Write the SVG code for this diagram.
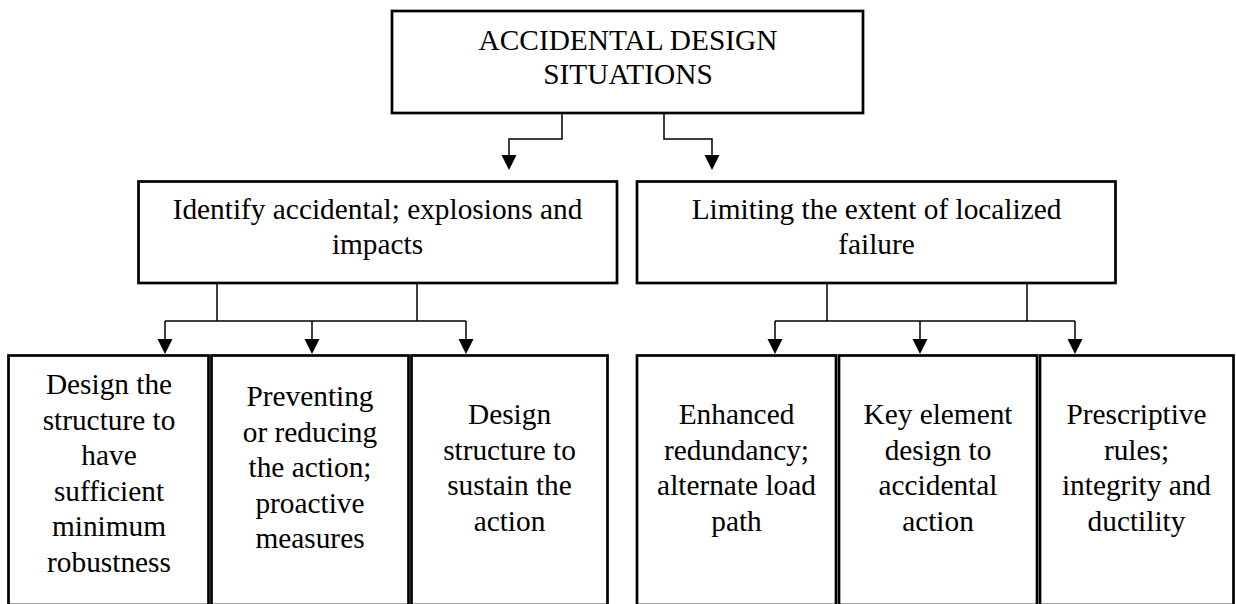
<svg xmlns="http://www.w3.org/2000/svg" width="1236" height="604" viewBox="0 0 1236 604">
<defs>
<style>
.box{fill:#fff;stroke:#000;stroke-width:2.7}
.t{font-family:'Liberation Serif',Tinos,'Times New Roman',Times,'DejaVu Serif',serif;font-size:29.33px;fill:#000;text-anchor:middle}
.c{fill:none;stroke:#000;stroke-width:1.5}
</style>
</defs>
<rect width="1236" height="604" fill="#fff"/>
<g id="connectors">
<path class="c" d="M562,113 V139 H509 V156"/>
<path d="M501.5,155 H516.5 L509,170 Z"/>
<path class="c" d="M664,113 V139 H712 V156"/>
<path d="M704.5,155 H719.5 L712,170 Z"/>
<path class="c" d="M217,283 V321 M417,283 V321 M165,321 H466 M165,321 V340 M312,321 V340 M466,321 V340"/>
<path d="M157.5,339 H172.5 L165,354 Z M304.5,339 H319.5 L312,354 Z M458.5,339 H473.5 L466,354 Z"/>
<path class="c" d="M827,283 V321 M1027,283 V321 M775,321 H1075 M775,321 V340 M920,321 V340 M1075,321 V340"/>
<path d="M767.5,339 H782.5 L775,354 Z M912.5,339 H927.5 L920,354 Z M1067.5,339 H1082.5 L1075,354 Z"/>
</g>
<g id="n-top">
<rect class="box" x="392" y="11" width="471" height="102"/>
<text class="t" font-family="Liberation Serif, serif" x="628" y="50">ACCIDENTAL DESIGN</text>
<text class="t" font-family="Liberation Serif, serif" x="628" y="83.5">SITUATIONS</text>
</g>
<g id="n-identify">
<rect class="box" x="138.5" y="181.5" width="478.5" height="101.5"/>
<text class="t" font-family="Liberation Serif, serif" x="377.5" y="219">Identify accidental; explosions and</text>
<text class="t" font-family="Liberation Serif, serif" x="377.5" y="254">impacts</text>
</g>
<g id="n-limiting">
<rect class="box" x="637" y="181.5" width="478.5" height="101.5"/>
<text class="t" font-family="Liberation Serif, serif" x="876.5" y="219">Limiting the extent of localized</text>
<text class="t" font-family="Liberation Serif, serif" x="876.5" y="254">failure</text>
</g>
<g id="n-robustness">
<rect class="box" x="8.5" y="355.5" width="200" height="249.5"/>
<text class="t" font-family="Liberation Serif, serif" x="109"><tspan x="109" y="394">Design the</tspan><tspan x="109" y="429.5">structure to</tspan><tspan x="109" y="465">have</tspan><tspan x="109" y="500.5">sufficient</tspan><tspan x="109" y="536">minimum</tspan><tspan x="109" y="571.5">robustness</tspan></text>
</g>
<g id="n-preventing">
<rect class="box" x="211.5" y="355.5" width="197" height="249.5"/>
<text class="t" font-family="Liberation Serif, serif" x="310"><tspan x="310" y="406">Preventing</tspan><tspan x="310" y="441.5">or reducing</tspan><tspan x="310" y="477">the action;</tspan><tspan x="310" y="512.5">proactive</tspan><tspan x="310" y="548">measures</tspan></text>
</g>
<g id="n-sustain">
<rect class="box" x="411.5" y="355.5" width="196" height="249.5"/>
<text class="t" font-family="Liberation Serif, serif" x="509.5"><tspan x="509.5" y="424">Design</tspan><tspan x="509.5" y="459.5">structure to</tspan><tspan x="509.5" y="495">sustain the</tspan><tspan x="509.5" y="530.5">action</tspan></text>
</g>
<g id="n-redundancy">
<rect class="box" x="637" y="355.5" width="199" height="249.5"/>
<text class="t" font-family="Liberation Serif, serif" x="736.5"><tspan x="736.5" y="424">Enhanced</tspan><tspan x="736.5" y="459.5">redundancy;</tspan><tspan x="736.5" y="495">alternate load</tspan><tspan x="736.5" y="530.5">path</tspan></text>
</g>
<g id="n-key">
<rect class="box" x="839" y="355.5" width="198" height="249.5"/>
<text class="t" font-family="Liberation Serif, serif" x="938"><tspan x="938" y="424">Key element</tspan><tspan x="938" y="459.5">design to</tspan><tspan x="938" y="495">accidental</tspan><tspan x="938" y="530.5">action</tspan></text>
</g>
<g id="n-prescriptive">
<rect class="box" x="1040" y="355.5" width="193.5" height="249.5"/>
<text class="t" font-family="Liberation Serif, serif" x="1136.5"><tspan x="1136.5" y="424">Prescriptive</tspan><tspan x="1136.5" y="459.5">rules;</tspan><tspan x="1136.5" y="495">integrity and</tspan><tspan x="1136.5" y="530.5">ductility</tspan></text>
</g>
</svg>
